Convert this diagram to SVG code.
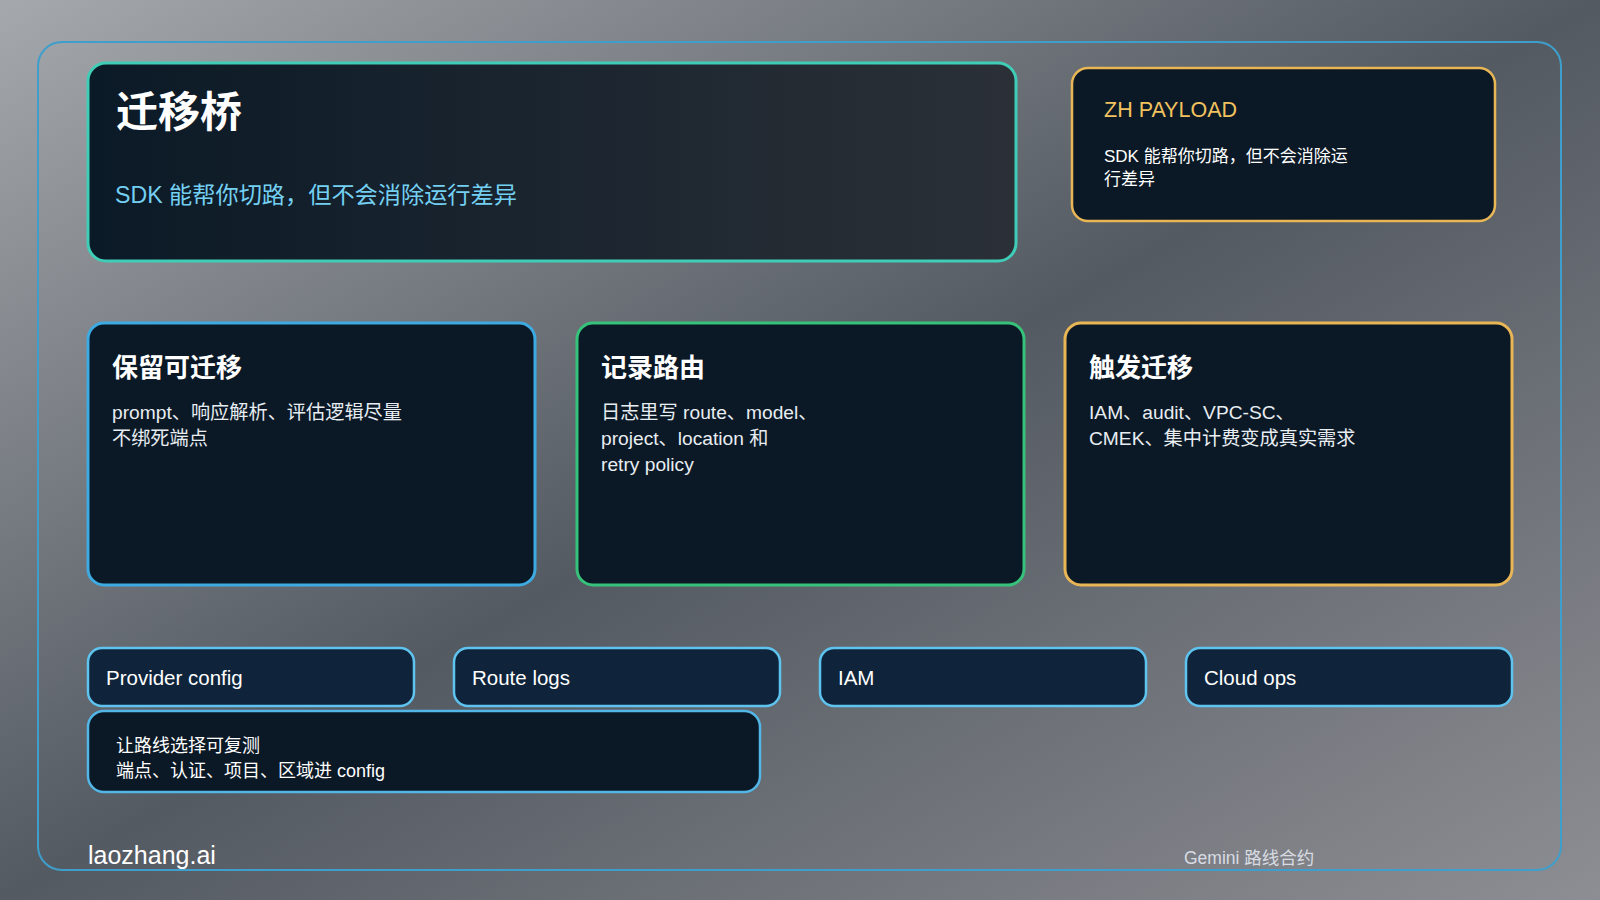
<svg xmlns="http://www.w3.org/2000/svg" width="1600" height="900" viewBox="0 0 1600 900">
  <defs>
    <linearGradient id="bg" x1="0" y1="0" x2="1" y2="1">
      <stop offset="0" stop-color="#a5a8ac"/>
      <stop offset="0.5" stop-color="#545a62"/>
      <stop offset="1" stop-color="#8d8e93"/>
    </linearGradient>
    <linearGradient id="heroFill" x1="0" y1="0" x2="1" y2="0">
      <stop offset="0" stop-color="#0b1a27"/>
      <stop offset="1" stop-color="#2b3037"/>
    </linearGradient>
    <style>
      text { font-family: "Liberation Sans", "Noto Sans CJK SC", sans-serif; }
      .card { fill: #0b1926; stroke-width: 3; }
      .pill { fill: #0f243a; stroke: #5ec3ef; stroke-width: 2.5; }
      .ctitle { fill: #ffffff; font-size: 26px; font-weight: bold; }
      .body { fill: #e8edf2; font-size: 19.2px; }
      .ptext { fill: #ffffff; font-size: 20.5px; }
    </style>
  </defs>

  <rect x="0" y="0" width="1600" height="900" fill="url(#bg)"/>
  <rect id="frame" x="38" y="42" width="1523" height="828" rx="24" fill="none" stroke="#3e9fcc" stroke-width="2"/>

  <g id="connectors"/>

  <g id="hero">
    <rect x="88" y="63" width="928" height="198" rx="18" fill="url(#heroFill)" stroke="#40cdb7" stroke-width="3"/>
    <text x="116" y="127" fill="#ffffff" font-size="42" font-weight="bold">迁移桥</text>
    <text x="115" y="203" fill="#74d0f2" font-size="23.2">SDK 能帮你切路，但不会消除运行差异</text>
  </g>

  <g id="zh-payload">
    <rect x="1072" y="68" width="423" height="153" rx="16" fill="#0b1926" stroke="#e9b656" stroke-width="2.5"/>
    <text x="1104" y="117" fill="#f2c25e" font-size="21.5">ZH PAYLOAD</text>
    <text x="1104" y="162" fill="#ffffff" font-size="17">SDK 能帮你切路，但不会消除运</text>
    <text x="1104" y="185" fill="#ffffff" font-size="17">行差异</text>
  </g>

  <g id="card-keep">
    <rect class="card" x="88" y="323" width="447" height="262" rx="16" stroke="#3eaae2"/>
    <text class="ctitle" x="112" y="377">保留可迁移</text>
    <text class="body" x="112" y="419">prompt、响应解析、评估逻辑尽量</text>
    <text class="body" x="112" y="445">不绑死端点</text>
  </g>

  <g id="card-route">
    <rect class="card" x="577" y="323" width="447" height="262" rx="16" stroke="#36c27a"/>
    <text class="ctitle" x="601" y="377">记录路由</text>
    <text class="body" x="601" y="419">日志里写 route、model、</text>
    <text class="body" x="601" y="445">project、location 和</text>
    <text class="body" x="601" y="471">retry policy</text>
  </g>

  <g id="card-trigger">
    <rect class="card" x="1065" y="323" width="447" height="262" rx="16" stroke="#e9b656"/>
    <text class="ctitle" x="1089" y="377">触发迁移</text>
    <text class="body" x="1089" y="419">IAM、audit、VPC-SC、</text>
    <text class="body" x="1089" y="445">CMEK、集中计费变成真实需求</text>
  </g>

  <g id="pill-provider">
    <rect class="pill" x="88" y="648" width="326" height="58" rx="14"/>
    <text class="ptext" x="106" y="685">Provider config</text>
  </g>
  <g id="pill-routelogs">
    <rect class="pill" x="454" y="648" width="326" height="58" rx="14"/>
    <text class="ptext" x="472" y="685">Route logs</text>
  </g>
  <g id="pill-iam">
    <rect class="pill" x="820" y="648" width="326" height="58" rx="14"/>
    <text class="ptext" x="838" y="685">IAM</text>
  </g>
  <g id="pill-cloudops">
    <rect class="pill" x="1186" y="648" width="326" height="58" rx="14"/>
    <text class="ptext" x="1204" y="685">Cloud ops</text>
  </g>

  <g id="note-config">
    <rect x="88" y="711" width="672" height="81" rx="16" fill="#0b1826" stroke="#52b6e6" stroke-width="2.5"/>
    <text x="116" y="752" fill="#ffffff" font-size="18">让路线选择可复测</text>
    <text x="116" y="777" fill="#ffffff" font-size="18">端点、认证、项目、区域进 config</text>
  </g>

  <g id="footer">
    <text x="88" y="864" fill="#ffffff" font-size="25">laozhang.ai</text>
    <text x="1184" y="864" fill="#d8dce2" font-size="17.5">Gemini 路线合约</text>
  </g>
</svg>
